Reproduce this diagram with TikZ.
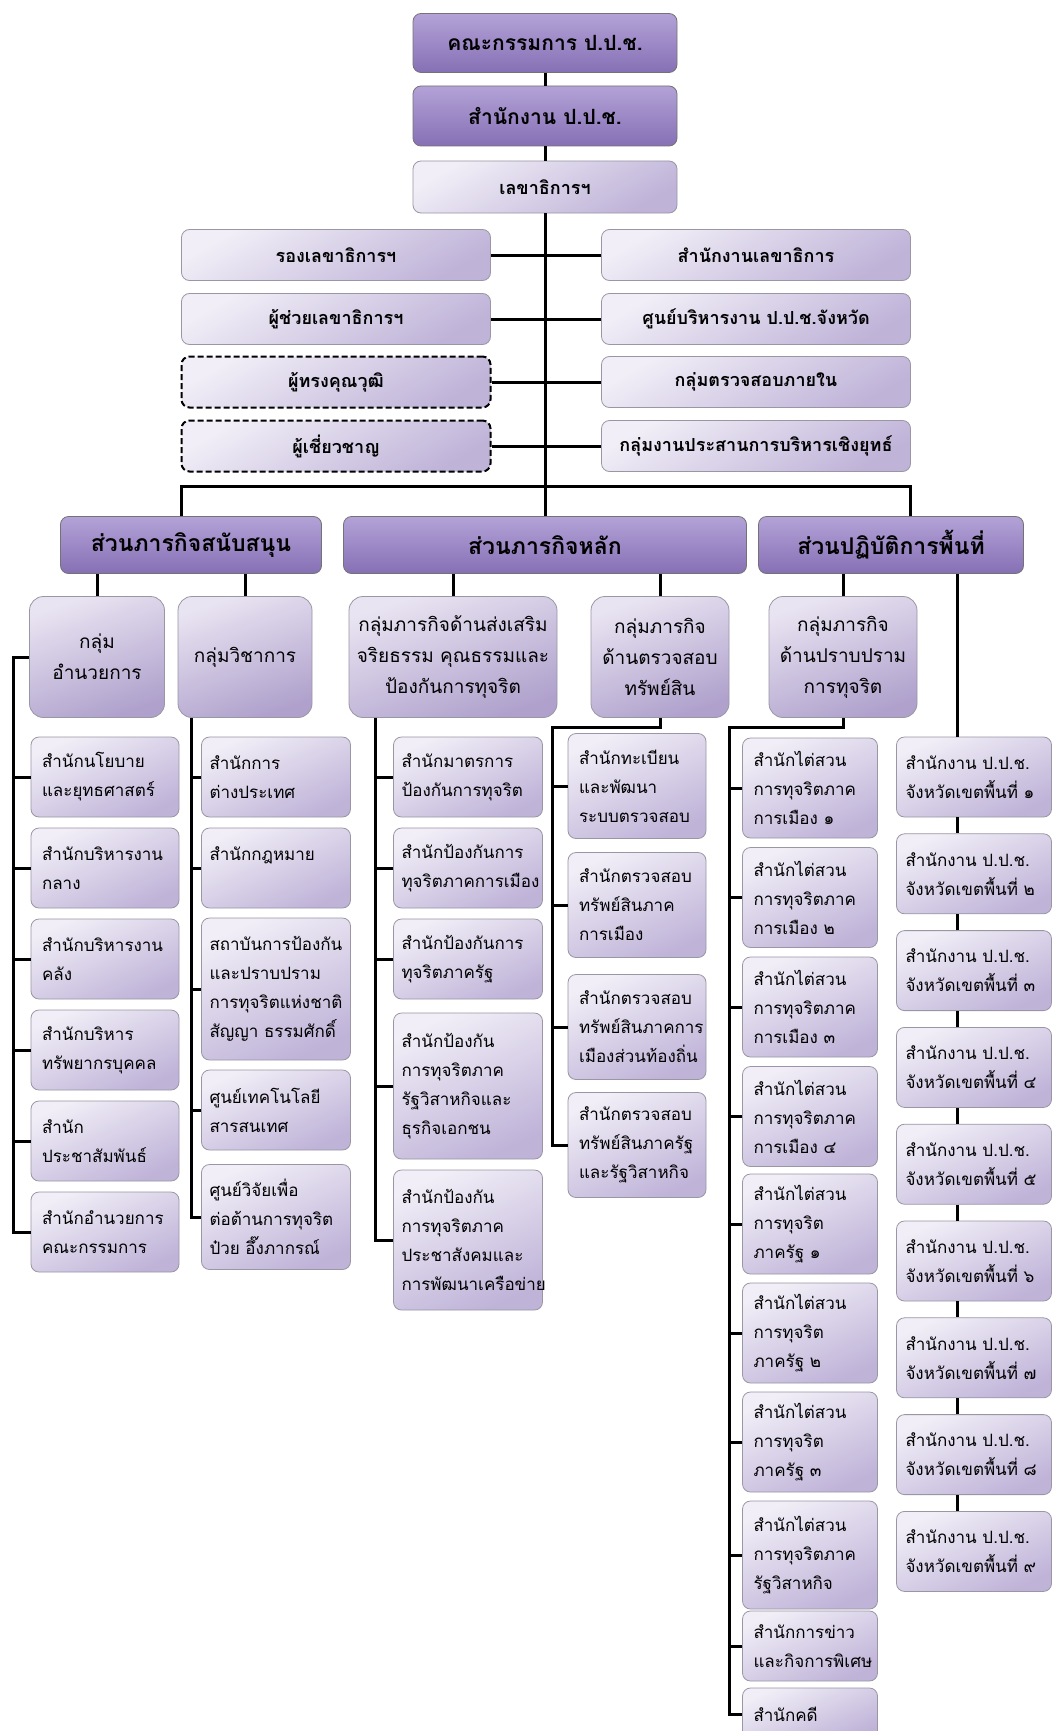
\documentclass[tikz,border=0pt]{standalone}
\usepackage{fontspec}
\newfontfamily\thai[Script=Thai]{Loma}
\usetikzlibrary{positioning}

\definecolor{dkTop}{HTML}{B3A2D7}
\definecolor{dkBot}{HTML}{8670B5}
\definecolor{ltTop}{HTML}{F1EEF7}
\definecolor{ltBot}{HTML}{BFB3D8}
\definecolor{mdTop}{HTML}{E9E4F2}
\definecolor{mdBot}{HTML}{AFA1CC}
\definecolor{edge}{HTML}{9A96A4}

\tikzset{
  conn/.style={line width=3pt, black},
  box/.style={rounded corners=8pt, draw=edge, line width=0.8pt, inner sep=0pt},
  topbox/.style={box, draw=black!55, top color=dkTop, bottom color=dkBot,
    minimum width=264pt, minimum height=59pt,
    font=\thai\fontsize{21}{24}\selectfont\bfseries},
  lvbox/.style={box, top color=ltTop, bottom color=ltBot, shading angle=30,
    minimum width=309pt, minimum height=51pt,
    font=\thai\fontsize{18}{22}\selectfont\bfseries},
  dashbox/.style={lvbox, draw=black, line width=2pt, dash pattern=on 6pt off 3pt},
  secbox/.style={topbox, minimum height=57pt, font=\thai\fontsize{23}{26}\selectfont\bfseries},
  grpbox/.style={box, rounded corners=14pt, top color=mdTop, bottom color=mdBot, shading angle=20,
    minimum height=121pt, align=center,
    font=\thai\fontsize{19}{31}\selectfont},
  subbox/.style={box, top color=ltTop, bottom color=ltBot, shading angle=25,
    align=left, inner xsep=11pt, font=\thai\fontsize{17}{29}\selectfont},
  colA/.style={subbox, text width=126pt, minimum height=80pt},
  colB/.style={subbox, text width=133pt, inner xsep=8pt, minimum height=80pt},
  colD/.style={subbox, text width=116pt, minimum height=105pt},
  colE/.style={subbox, text width=113pt, minimum height=100pt},
  colF/.style={subbox, text width=137pt, inner xsep=9pt, minimum height=80pt}
}

\begin{document}
\begin{tikzpicture}[x=1pt,y=-1pt]
  \clip (0,0) rectangle (1053,1731);
  \fill[white] (0,0) rectangle (1053,1731);

  % top chain
  \node[topbox] (kana) at (545,43) {คณะกรรมการ ป.ป.ช.};
  \node[topbox, minimum height=60pt] (office) at (545,116) {สำนักงาน ป.ป.ช.};
  \node[lvbox, minimum width=264pt, minimum height=52pt] (sec) at (545,187) {เลขาธิการฯ};

  % deputies and staff units
  \node[lvbox] (l1) at (336,255) {รองเลขาธิการฯ};
  \node[lvbox] (l2) at (336,319) {ผู้ช่วยเลขาธิการฯ};
  \node[dashbox] (l3) at (336,382) {ผู้ทรงคุณวุฒิ};
  \node[dashbox] (l4) at (336,446) {ผู้เชี่ยวชาญ};
  \node[lvbox] (r1) at (756,255) {สำนักงานเลขาธิการ};
  \node[lvbox] (r2) at (756,319) {ศูนย์บริหารงาน ป.ป.ช.จังหวัด};
  \node[lvbox] (r3) at (756,382) {กลุ่มตรวจสอบภายใน};
  \node[lvbox] (r4) at (756,446) {กลุ่มงานประสานการบริหารเชิงยุทธ์};

  % three parts
  \node[secbox, minimum width=261pt] (s1) at (191,545) {ส่วนภารกิจสนับสนุน};
  \node[secbox, minimum width=403pt] (s2) at (545,545) {ส่วนภารกิจหลัก};
  \node[secbox, minimum width=265pt] (s3) at (891,545) {ส่วนปฏิบัติการพื้นที่};

  % groups
  \node[grpbox, minimum width=135pt] (g1) at (97,657) {กลุ่ม\\อำนวยการ};
  \node[grpbox, minimum width=134pt] (g2) at (245,657) {กลุ่มวิชาการ};
  \node[grpbox, minimum width=208pt] (g3) at (453,657) {กลุ่มภารกิจด้านส่งเสริม\\จริยธรรม คุณธรรมและ\\ป้องกันการทุจริต};
  \node[grpbox, minimum width=138pt] (g4) at (660,657) {กลุ่มภารกิจ\\ด้านตรวจสอบ\\ทรัพย์สิน};
  \node[grpbox, minimum width=148pt] (g5) at (843,657) {กลุ่มภารกิจ\\ด้านปราบปราม\\การทุจริต};

  % column A
  \foreach \t [count=\i] in {{สำนักนโยบาย\\และยุทธศาสตร์}, {สำนักบริหารงาน\\กลาง},
      {สำนักบริหารงาน\\คลัง}, {สำนักบริหาร\\ทรัพยากรบุคคล},
      {สำนัก\\ประชาสัมพันธ์}, {สำนักอำนวยการ\\คณะกรรมการ}}
    \node[colA] (a\i) at (105,{777+91*(\i-1)}) {\t};

  % column B
  \node[colB] (b1) at (276,777) {สำนักการ\\ต่างประเทศ};
  \node[colB] (b2) at (276,868) {สำนักกฎหมาย\\\mbox{}};
  \node[colB, minimum height=142pt] (b3) at (276,989) {สถาบันการป้องกัน\\และปราบปราม\\การทุจริตแห่งชาติ\\สัญญา ธรรมศักดิ์};
  \node[colB] (b4) at (276,1110) {ศูนย์เทคโนโลยี\\สารสนเทศ};
  \node[colB, minimum height=105pt] (b5) at (276,1217) {ศูนย์วิจัยเพื่อ\\ต่อต้านการทุจริต\\ป๋วย อึ๊งภากรณ์};

  % column C
  \node[colB] (c1) at (468,777) {สำนักมาตรการ\\ป้องกันการทุจริต};
  \node[colB] (c2) at (468,868) {สำนักป้องกันการ\\ทุจริตภาคการเมือง};
  \node[colB] (c3) at (468,959) {สำนักป้องกันการ\\ทุจริตภาครัฐ};
  \node[colB, minimum height=146pt] (c4) at (468,1086) {สำนักป้องกัน\\การทุจริตภาค\\รัฐวิสาหกิจและ\\ธุรกิจเอกชน};
  \node[colB, minimum height=140pt] (c5) at (468,1240) {สำนักป้องกัน\\การทุจริตภาค\\ประชาสังคมและ\\การพัฒนาเครือข่าย};

  % column D
  \node[colD] (d1) at (637,786) {สำนักทะเบียน\\และพัฒนา\\ระบบตรวจสอบ};
  \node[colD] (d2) at (637,905) {สำนักตรวจสอบ\\ทรัพย์สินภาค\\การเมือง};
  \node[colD] (d3) at (637,1027) {สำนักตรวจสอบ\\ทรัพย์สินภาคการ\\เมืองส่วนท้องถิ่น};
  \node[colD] (d4) at (637,1145) {สำนักตรวจสอบ\\ทรัพย์สินภาครัฐ\\และรัฐวิสาหกิจ};

  % column E
  \foreach \n [count=\i] in {๑,๒,๓,๔}
    \node[colE] (e\i) at (810,{788+109.5*(\i-1)}) {สำนักไต่สวน\\การทุจริตภาค\\การเมือง \n};
  \foreach \n [count=\i from 5] in {๑,๒,๓}
    \node[colE] (e\i) at (810,{788+109*(\i-1)}) {สำนักไต่สวน\\การทุจริต\\ภาครัฐ \n};
  \node[colE, minimum height=108pt] (e8) at (810,1555) {สำนักไต่สวน\\การทุจริตภาค\\รัฐวิสาหกิจ};
  \node[colE, minimum height=70pt] (e9) at (810,1646) {สำนักการข่าว\\และกิจการพิเศษ};
  \node[colE, minimum height=52pt] (e10) at (810,1714) {สำนักคดี};

  % column F
  \foreach \n [count=\i] in {๑,๒,๓,๔,๕,๖,๗,๘,๙}
    \node[colF] (f\i) at (974,{777+96.8*(\i-1)}) {สำนักงาน ป.ป.ช.\\จังหวัดเขตพื้นที่ \n};

  % connectors, top part
  \coordinate (busL) at (181,486);
  \coordinate (busR) at (910,486);
  \draw[conn] (kana) -- (office);
  \draw[conn] (office) -- (sec);
  \draw[conn] (sec.south) -- (sec.south |- s2.north);
  \foreach \k in {1,...,4} {
    \draw[conn] (l\k.east) -- (l\k.east -| sec.south);
    \draw[conn] (r\k.west) -- (r\k.west -| sec.south);
  }
  \draw[conn] (busL |- s1.north) -- (busL) -- (busR) -- (busR |- s3.north);

  % parts to groups
  \draw[conn] (g1.north) -- (g1.north |- s1.south);
  \draw[conn] (g2.north) -- (g2.north |- s1.south);
  \draw[conn] (g3.north) -- (g3.north |- s2.south);
  \draw[conn] (g4.north) -- (g4.north |- s2.south);
  \draw[conn] (g5.north) -- (g5.north |- s3.south);

  % groups to offices
  \coordinate (ax) at (13,0);
  \coordinate (bx) at (191,0);
  \coordinate (cx) at (375,0);
  \coordinate (dx) at (552,0);
  \coordinate (ex) at (729,0);
  \coordinate (fx) at (957,0);
  \coordinate (elb) at (0,727);
  \draw[conn] (g1.west) -- (g1.west -| ax) -- (a6.west -| ax) -- (a6.west);
  \foreach \k in {1,...,5}
    \draw[conn] (a\k.west -| ax) -- (a\k.west);
  \draw[conn] (g2.south -| bx) -- (b5.west -| bx) -- (b5.west);
  \foreach \k in {1,...,4}
    \draw[conn] (b\k.west -| bx) -- (b\k.west);
  \draw[conn] (g3.south -| cx) -- (c5.west -| cx) -- (c5.west);
  \foreach \k in {1,...,4}
    \draw[conn] (c\k.west -| cx) -- (c\k.west);
  \draw[conn] (g4.south) -- (g4.south |- elb) -- (dx |- elb) -- (d4.west -| dx) -- (d4.west);
  \foreach \k in {1,...,3}
    \draw[conn] (d\k.west -| dx) -- (d\k.west);
  \draw[conn] (g5.south) -- (g5.south |- elb) -- (ex |- elb) -- (e10.west -| ex) -- (e10.west);
  \foreach \k in {1,...,9}
    \draw[conn] (e\k.west -| ex) -- (e\k.west);
  \draw[conn] (s3.south -| fx) -- (f1.north -| fx);
  \foreach \k [evaluate=\k as \m using int(\k+1)] in {1,...,8}
    \draw[conn] (f\k.south -| fx) -- (f\m.north -| fx);
\end{tikzpicture}
\end{document}
